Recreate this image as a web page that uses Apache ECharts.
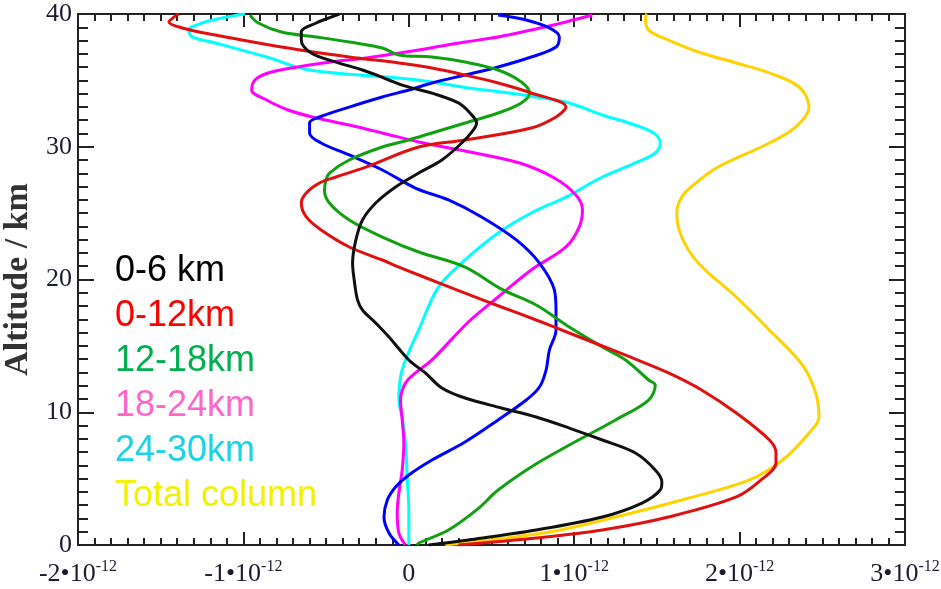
<!DOCTYPE html>
<html lang="en">
<head>
<meta charset="UTF-8">
<title>Altitude profiles</title>
<script src="https://cdn.jsdelivr.net/npm/echarts@6/dist/echarts.min.js"></script>
<style>
  html, body { margin: 0; padding: 0; background: #fff; }
  #chart { width: 941px; height: 589px; }
</style>
</head>
<body>
<div id="chart"></div>
<script>
// x values are in units of 1e-12, y values are altitude in km
const black06 = [[0.12,0],[0.36,0.38],[0.77,1.13],[1.17,2.11],[1.41,3.16],[1.52,4.14],[1.53,4.75],[1.49,5.65],[1.37,6.93],[1.17,7.91],[0.97,8.81],[0.77,9.64],[0.56,10.32],[0.34,11.07],[0.20,11.83],[0.10,12.96],[0.00,13.94],[-0.12,15.67],[-0.20,16.72],[-0.28,17.70],[-0.31,18.46],[-0.33,19.96],[-0.34,21.24],[-0.32,22.98],[-0.28,24.48],[-0.20,25.76],[-0.08,26.97],[0.06,28.02],[0.20,29.00],[0.32,30.28],[0.39,31.26],[0.41,31.79],[0.37,32.54],[0.30,33.3],[0.15,34.0],[-0.03,34.6],[-0.12,35.03],[-0.28,35.78],[-0.44,36.38],[-0.59,37.06],[-0.65,38.04],[-0.65,38.64],[-0.56,39.32],[-0.47,39.77],[-0.42,40.0]];
const red012 = [[0.30,0],[0.77,0.53],[1.17,1.13],[1.57,2.11],[1.98,3.62],[2.13,4.90],[2.22,6.18],[2.22,6.93],[2.18,7.91],[1.98,9.94],[1.77,11.68],[1.57,12.96],[1.37,14.0],[1.17,14.99],[0.97,15.97],[0.77,16.95],[0.56,17.93],[0.34,18.98],[0.06,20.34],[-0.06,20.94],[-0.16,21.47],[-0.36,22.45],[-0.53,23.73],[-0.62,24.71],[-0.65,25.76],[-0.62,26.52],[-0.54,27.27],[-0.44,27.72],[-0.26,28.47],[0.06,29.98],[0.34,30.51],[0.74,31.41],[0.89,32.24],[0.95,33.0],[0.74,34.05],[0.54,34.80],[0.34,35.40],[0.14,35.93],[-0.06,36.31],[-0.36,36.76],[-0.77,37.51],[-1.17,38.42],[-1.37,38.95],[-1.45,39.40],[-1.42,39.77],[-1.39,40.0]];
const green1218 = [[0.05,0],[0.06,0.15],[0.24,1.13],[0.41,2.64],[0.54,4.14],[0.74,5.88],[0.97,7.53],[1.25,9.42],[1.45,10.92],[1.49,12.05],[1.45,12.43],[1.31,13.94],[1.17,14.92],[0.97,16.42],[0.77,18.08],[0.56,19.28],[0.34,20.94],[0.06,22.07],[-0.16,23.20],[-0.36,24.48],[-0.48,25.76],[-0.51,26.74],[-0.50,27.50],[-0.48,28.02],[-0.36,29.00],[-0.16,29.98],[0.00,30.51],[0.14,31.04],[0.34,31.79],[0.54,32.54],[0.68,33.30],[0.73,34.05],[0.68,34.88],[0.54,35.78],[0.34,36.38],[0.14,36.76],[-0.06,36.91],[-0.16,37.44],[-0.36,37.89],[-0.56,38.27],[-0.77,38.64],[-0.91,39.32],[-0.96,39.92]];
const magenta1824 = [[-0.02,0],[-0.06,0.90],[-0.07,2.41],[-0.06,3.92],[-0.04,5.65],[-0.03,7.68],[-0.04,9.42],[-0.05,10.92],[-0.02,12.20],[0.04,12.96],[0.14,13.94],[0.36,16.80],[0.54,18.68],[0.74,20.72],[0.95,22.45],[1.03,23.95],[1.05,25.24],[1.01,26.37],[0.88,27.65],[0.67,28.78],[0.34,29.68],[0.06,30.36],[-0.16,31.04],[-0.36,31.64],[-0.56,32.17],[-0.73,32.77],[-0.86,33.52],[-0.95,34.27],[-0.93,35.03],[-0.85,35.56],[-0.67,36.01],[-0.47,36.38],[-0.26,36.69],[0.06,37.29],[0.34,37.89],[0.54,38.27],[0.74,38.79],[0.95,39.40],[1.11,39.92]];
const cyan2430 = [[0.00,0],[0.00,2.64],[-0.01,5.12],[-0.02,7.68],[-0.04,9.64],[-0.06,10.92],[-0.05,12.66],[-0.02,13.94],[0.06,16.20],[0.18,19.44],[0.34,21.47],[0.54,23.50],[0.74,25.01],[0.95,26.21],[1.17,27.72],[1.37,28.78],[1.49,29.53],[1.52,30.28],[1.48,31.04],[1.33,31.79],[1.17,32.39],[0.97,33.30],[0.77,33.75],[0.56,34.12],[0.36,34.43],[0.14,34.88],[-0.06,35.18],[-0.60,35.78],[-0.86,36.76],[-1.17,37.82],[-1.31,38.27],[-1.33,38.79],[-1.25,39.32],[-1.13,39.70],[-0.99,40.0]];
const blueProfile = [[-0.06,0],[-0.12,0.90],[-0.15,2.11],[-0.13,3.39],[-0.08,4.37],[0.00,5.27],[0.14,6.40],[0.34,7.76],[0.54,9.42],[0.71,10.92],[0.79,11.90],[0.83,13.18],[0.85,14.69],[0.89,16.20],[0.89,17.70],[0.88,19.21],[0.79,21.24],[0.65,22.98],[0.44,24.71],[0.24,25.99],[0.04,26.89],[-0.16,28.25],[-0.36,29.38],[-0.53,30.28],[-0.60,31.04],[-0.60,31.79],[-0.54,32.24],[-0.36,32.99],[-0.16,33.75],[0.00,34.27],[0.14,34.80],[0.34,35.40],[0.54,36.01],[0.74,36.76],[0.89,37.51],[0.91,38.27],[0.85,38.95],[0.71,39.55],[0.54,39.92]];
const totalColumn = [[0.22,0],[0.85,0.98],[1.25,2.11],[1.65,3.39],[2.06,4.90],[2.26,6.40],[2.42,8.44],[2.48,9.64],[2.46,11.45],[2.38,13.56],[2.18,16.20],[1.98,18.68],[1.75,21.24],[1.65,23.20],[1.62,25.01],[1.65,26.21],[1.72,27.12],[1.87,28.47],[2.18,30.28],[2.34,31.49],[2.42,32.99],[2.36,34.50],[2.18,35.56],[1.98,36.31],[1.77,37.06],[1.57,38.04],[1.45,38.79],[1.43,39.77],[1.44,40.0]];

const legendNames = ['0-6 km', '0-12km', '12-18km', '18-24km', '24-30km', 'Total column'];
const legendColors = ['#000000', '#ff0000', '#00b050', '#ff66cc', '#18d4e4', '#f2f200'];

const chart = echarts.init(document.getElementById('chart'));

const serif = 'Liberation Serif';
const labelColor = '#1c1c30';

function lineSeries(data, color) {
  return {
    type: 'line',
    data: data,
    smooth: 0.35,
    showSymbol: false,
    lineStyle: { color: color, width: 3 },
    silent: true
  };
}

function xLabel(v) {
  if (v === 0) return '{a|0}';
  return '{a|' + v + '•10}{b|-12}';
}

// every frame side: line, inward ticks, inward minor ticks
function frameAxis(pos, isX) {
  return {
    type: 'value',
    min: isX ? -2 : 0,
    max: isX ? 3 : 40,
    interval: isX ? 1 : 10,
    position: pos,
    axisLine: { show: true, onZero: false, lineStyle: { color: '#222', width: 2 } },
    axisTick: { show: true, inside: true, length: isX ? 13 : 16, lineStyle: { color: '#222', width: 2 } },
    minorTick: { show: true, splitNumber: 10, length: isX ? 7 : 10, lineStyle: { color: '#222', width: 2 } },
    splitLine: { show: false },
    axisLabel: { show: false }
  };
}

const xBottom = frameAxis('bottom', true);
xBottom.axisLabel = {
  show: true, margin: 14, formatter: xLabel,
  rich: {
    a: { fontFamily: serif, fontSize: 26, color: labelColor, lineHeight: 30 },
    b: { fontFamily: serif, fontSize: 16, color: labelColor, verticalAlign: 'top', lineHeight: 30, padding: [0, 0, 12, 0] }
  }
};

const yLeft = frameAxis('left', false);
yLeft.axisLabel = { show: true, margin: 6, fontFamily: serif, fontSize: 26, color: labelColor };
yLeft.name = 'Altitude / km';
yLeft.nameLocation = 'middle';
yLeft.nameRotate = 90;
yLeft.nameGap = 38;
yLeft.nameTextStyle = { fontFamily: serif, fontSize: 34, fontWeight: 'bold', color: '#333' };

const option = {
  animation: false,
  grid: { left: 78, right: 36, top: 14, bottom: 44, outerBoundsMode: 'none' },
  xAxis: [xBottom, frameAxis('top', true)],
  yAxis: [yLeft, frameAxis('right', false)],
  graphic: legendNames.map(function (name, i) {
    return {
      type: 'text',
      left: 115,
      top: 253 + i * 45,
      style: {
        text: name,
        fill: legendColors[i],
        font: '36px "Liberation Sans", Arial, sans-serif'
      }
    };
  }),
  series: [
    lineSeries(totalColumn, '#ffd200'),
    lineSeries(cyan2430, '#00ffff'),
    lineSeries(magenta1824, '#ff00ff'),
    lineSeries(blueProfile, '#0000ff'),
    lineSeries(green1218, '#10a010'),
    lineSeries(red012, '#e01010'),
    lineSeries(black06, '#111111')
  ]
};

chart.setOption(option);
</script>
</body>
</html>
